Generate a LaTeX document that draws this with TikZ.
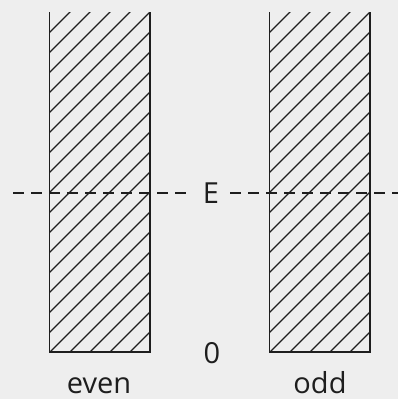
\documentclass[tikz,border=0pt]{standalone}
\usepackage{fontspec}
\setmainfont{Open Sans}
\usepackage{tikz}
\usetikzlibrary{positioning, calc}
\definecolor{ink}{HTML}{1E1E1E}
\definecolor{paper}{HTML}{EEEEEE}
\tikzset{
  % potential walls (hatched, open at top)
  well/.style={rectangle, minimum width=100.5pt, minimum height=340pt,
               inner sep=0pt, outer sep=0pt},
  wall/.style={draw=ink, line width=1.9pt, line join=miter},
  hatch/.style={draw=ink, line width=1.3pt},
  % energy level
  level/.style={draw=ink, line width=1.4pt, dash pattern=on 11pt off 7pt},
  lbl/.style={font=\fontsize{29}{33}\selectfont, text=ink, inner sep=0pt},
}

\begin{document}
\begin{tikzpicture}[x=1pt, y=-1pt]

\fill[paper] (0,0) rectangle (398,399);
\useasboundingbox (0,0) rectangle (398,399);

% ── Wells ────────────────────────────────────────────────────────────────────
\node[well] (evenwell) at (99.75, 182) {};
\node[well] (oddwell)  at (319.75,182) {};

% ── Hatching ─────────────────────────────────────────────────────────────────
\foreach \w/\off in {evenwell/0, oddwell/220} {
  \begin{scope}
    \clip (\w.north west) rectangle (\w.south east);
    \foreach \c in {82,102,...,502}
      \draw[hatch] ({\c+\off-450},450) -- ({\c+\off},0);
  \end{scope}
  \draw[wall] (\w.north west) -- (\w.south west) -- (\w.south east) -- (\w.north east);
}

% ── Labels ───────────────────────────────────────────────────────────────────
\node[lbl, anchor=base] (E)    at (211, 203) {E};
\node[lbl, anchor=base] (zero) at (212, 363) {0};
\node[lbl, anchor=base] (even) at (99,  393) {even};
\node[lbl, anchor=base] (odd)  at (320, 393) {odd};

% ── Energy level ─────────────────────────────────────────────────────────────
\coordinate (lvlL) at (13, 193);
\coordinate (lvlR) at (398,193);
\draw[level] (lvlL) -- ([xshift=-12pt]E.west |- lvlL);
\draw[level] ([xshift=11pt]E.east |- lvlR) -- (lvlR);

\end{tikzpicture}
\end{document}
